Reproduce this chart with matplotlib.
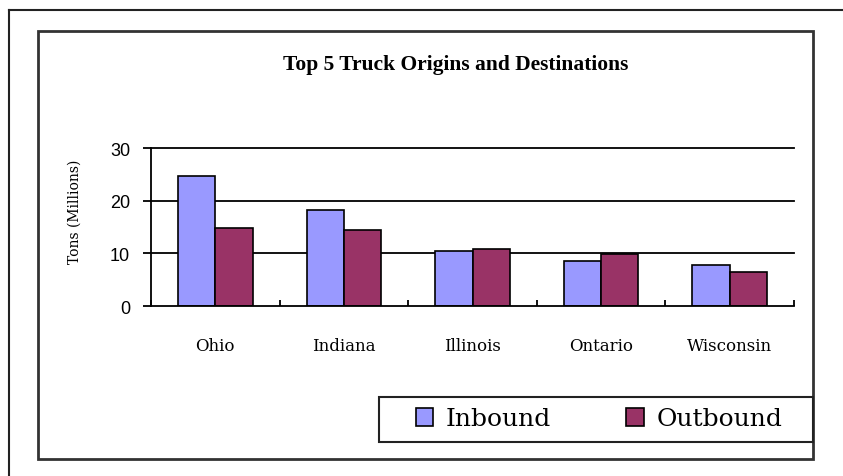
import matplotlib
matplotlib.use("Agg")
import matplotlib.pyplot as plt
from matplotlib.patches import Rectangle, Patch
from matplotlib.lines import Line2D
import numpy as np

states = ["Ohio", "Indiana", "Illinois", "Ontario", "Wisconsin"]
inbound = [24.6, 18.2, 10.4, 8.6, 7.8]
outbound = [14.8, 14.4, 10.8, 9.9, 6.5]
yticks = [0, 10, 20, 30]

W, H = 843, 477
fig = plt.figure(figsize=(W / 100, H / 100), dpi=100)

def fx(px):
    return px / W

def fy(py):
    return 1 - py / H

# outer page border (top and left edges only)
fig.add_artist(Line2D([fx(9), 1], [fy(11), fy(11)], color="#222222", lw=1.5))
fig.add_artist(Line2D([fx(9), fx(9)], [fy(11), 0], color="#222222", lw=1.5))
# chart area frame
fig.add_artist(Rectangle((fx(38), fy(460)), fx(813) - fx(38), fy(32) - fy(460),
                         fill=False, edgecolor="#333333", lw=2))

ax = fig.add_axes([fx(151), fy(307), fx(794) - fx(151), fy(149) - fy(307)])
x = np.arange(len(states))
bw = 0.29
ax.bar(x - bw / 2, inbound, bw, color="#9999FF", edgecolor="black", lw=1.2, label="Inbound")
ax.bar(x + bw / 2, outbound, bw, color="#993366", edgecolor="black", lw=1.2, label="Outbound")

ax.set_xlim(-0.5, len(states) - 0.5)
ax.set_ylim(0, 30)
ax.set_yticks(yticks)
ax.set_yticklabels([str(v) for v in yticks], fontsize=13, family="Liberation Sans")
for v in yticks[1:]:
    ax.axhline(v, color="black", lw=1.3, zorder=0, clip_on=False)

ax.set_xticks(np.arange(len(states) + 1) - 0.5)
ax.set_xticklabels([])
ax.tick_params(axis="x", direction="in", length=4.5, width=1.3)
ax.tick_params(axis="y", direction="out", length=6, width=1.3, pad=9)
for i, s in enumerate(states):
    ax.text(i, -0.25, s, transform=ax.get_xaxis_transform(), ha="center", va="center",
            fontsize=12, family="DejaVu Serif")

for side in ["top", "right"]:
    ax.spines[side].set_visible(False)
ax.spines["left"].set_linewidth(1.3)
ax.spines["bottom"].set_linewidth(1.3)

fig.text(fx(75), fy(212), "Tons (Millions)", rotation=90, ha="center", va="center",
         fontsize=10, family="DejaVu Serif")
fig.text(fx(456), fy(65), "Top 5 Truck Origins and Destinations", ha="center", va="center",
         fontsize=15.5, fontweight="bold", family="Liberation Serif")

# legend box
fig.add_artist(Rectangle((fx(379), fy(443)), fx(813) - fx(379), fy(398) - fy(443),
                         fill=False, edgecolor="#222222", lw=1.5))
handles = [Patch(facecolor="#9999FF", edgecolor="black", lw=1.2, label="Inbound"),
           Patch(facecolor="#993366", edgecolor="black", lw=1.2, label="Outbound")]
fig.legend(handles=handles, loc="center", bbox_to_anchor=(fx(599), fy(420)), ncol=2,
           frameon=False, prop={"family": "DejaVu Serif", "size": 18},
           handlelength=0.7, handleheight=0.7, handletextpad=0.5, columnspacing=3.0)

fig.savefig("out.png", dpi=100)
